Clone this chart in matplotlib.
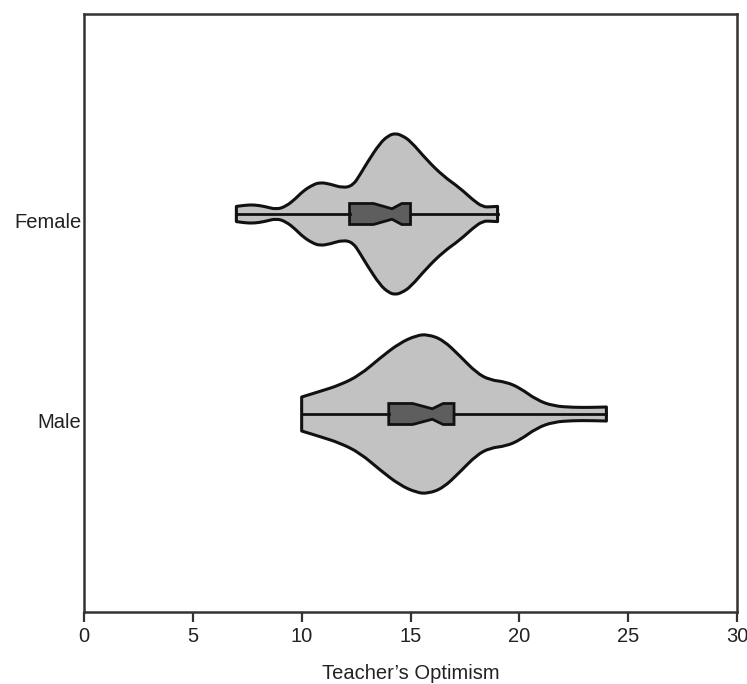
import numpy as np
import matplotlib
matplotlib.use("Agg")
import matplotlib.pyplot as plt
from matplotlib.path import Path
from matplotlib.patches import PathPatch
import matplotlib.transforms as mtransforms

plt.rcParams['font.family'] = ['Liberation Sans', 'DejaVu Sans']

# ---- data ----
categories = ["Male", "Female"]
positions = [0, 1]

# violin outline: value and half-width (in category units)
female_x = [7.0, 7.4, 7.8, 8.3, 8.85, 9.3, 9.7, 10.07, 10.5, 10.84, 11.3, 11.9, 12.36,
            12.7, 13.0, 13.6, 14.0, 14.3, 14.6, 15.0, 15.75, 16.5, 17.27, 17.87, 18.33, 18.7, 19.0]
female_w = [0.038, 0.044, 0.046, 0.038, 0.022, 0.040, 0.075, 0.115, 0.145, 0.158, 0.150, 0.130, 0.143,
            0.200, 0.255, 0.355, 0.393, 0.403, 0.393, 0.365, 0.270, 0.190, 0.130, 0.070, 0.035, 0.036, 0.038]

male_x = [10.0, 10.84, 11.76, 12.68, 13.6, 14.5, 15.28, 15.8, 16.5, 17.27, 18.04, 18.65,
          19.4, 20.03, 20.8, 21.56, 22.48, 23.3, 24.0]
male_w = [0.085, 0.113, 0.145, 0.195, 0.280, 0.355, 0.393, 0.398, 0.370, 0.290, 0.205, 0.170,
          0.160, 0.130, 0.070, 0.040, 0.033, 0.033, 0.035]

# notched box statistics
female_box = dict(q1=12.2, q3=15.0, med=14.15, cilo=13.3, cihi=14.6, whislo=7.0, whishi=19.0)
male_box = dict(q1=14.0, q3=17.0, med=16.0, cilo=15.1, cihi=16.5, whislo=10.0, whishi=24.0)

xticks = [0, 5, 10, 15, 20, 25, 30]
xlabel = "Teacher\u2019s Optimism"

# ---- drawing ----
fig = plt.figure(figsize=(7.47, 6.84), dpi=100)
ax = fig.add_axes([84 / 747, 1 - 612 / 684, (737 - 84) / 747, (612 - 14) / 684])


def smooth_edge(pts):
    verts = [pts[0]]
    codes = []
    for i in range(1, len(pts) - 1):
        mid = ((pts[i][0] + pts[i + 1][0]) / 2, (pts[i][1] + pts[i + 1][1]) / 2)
        verts += [pts[i], mid]
        codes += [Path.CURVE3, Path.CURVE3]
    verts.append(pts[-1])
    codes.append(Path.LINETO)
    return verts, codes


def violin(ax, xs, ws, pos):
    upper = [(x, pos + w) for x, w in zip(xs, ws)]
    lower = [(x, pos - w) for x, w in zip(xs, ws)][::-1]
    v1, c1 = smooth_edge(upper)
    v2, c2 = smooth_edge(lower)
    verts = v1 + v2 + [upper[0]]
    codes = [Path.MOVETO] + c1 + [Path.LINETO] + c2 + [Path.CLOSEPOLY]
    patch = PathPatch(Path(verts, codes), facecolor="#c2c2c2", edgecolor="#111111",
                      linewidth=2.2, zorder=1, joinstyle="round")
    ax.add_patch(patch)


violin(ax, female_x, female_w, positions[1])
violin(ax, male_x, male_w, positions[0])

stats = [dict(male_box, label="Male"), dict(female_box, label="Female")]
ax.bxp(stats, positions=positions, widths=0.105, orientation="horizontal", shownotches=True,
       showcaps=False, showfliers=False, patch_artist=True,
       boxprops=dict(facecolor="#5e5e5e", edgecolor="#111111", linewidth=2.0),
       whiskerprops=dict(color="#111111", linewidth=2.0),
       medianprops=dict(visible=False), manage_ticks=False, zorder=3)

ax.set_xlim(0, 30)
ax.set_ylim(-0.99, 2.0)
ax.set_xticks(xticks)
ax.set_xticklabels([str(t) for t in xticks])
ax.set_yticks(positions)
ax.set_yticklabels(categories)
ax.tick_params(axis="x", length=7, width=1.6, color="#333333", pad=4, labelsize=14.5, labelcolor="#222222")
ax.tick_params(axis="y", length=0, pad=2, labelsize=14.5, labelcolor="#222222")
offset = mtransforms.ScaledTranslation(0, -0.07, fig.dpi_scale_trans)
for lbl in ax.get_yticklabels():
    lbl.set_transform(lbl.get_transform() + offset)
for s in ax.spines.values():
    s.set_linewidth(1.8)
    s.set_color("#333333")
ax.set_xlabel(xlabel, fontsize=14.5, color="#222222", labelpad=13)

fig.savefig("out.png", dpi=100)
